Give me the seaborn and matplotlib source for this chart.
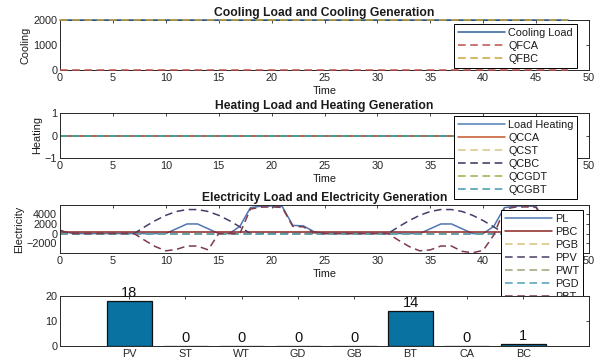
import matplotlib
matplotlib.use("Agg")
import matplotlib.pyplot as plt
import seaborn as sns
import pandas as pd

# ---------------- data ----------------
hours = list(range(0, 49))

zero_48h = [0, 0, 0, 0, 0, 0, 0, 0, 0, 0, 0, 0, 0, 0, 0, 0, 0, 0, 0, 0, 0, 0, 0, 0, 0,
            0, 0, 0, 0, 0, 0, 0, 0, 0, 0, 0, 0, 0, 0, 0, 0, 0, 0, 0, 0, 0, 0, 0, 0]

cooling_load = [2000, 2000, 2000, 2000, 2000, 2000, 2000, 2000, 2000, 2000, 2000, 2000, 2000,
                2000, 2000, 2000, 2000, 2000, 2000, 2000, 2000, 2000, 2000, 2000, 2000,
                2000, 2000, 2000, 2000, 2000, 2000, 2000, 2000, 2000, 2000, 2000, 2000,
                2000, 2000, 2000, 2000, 2000, 2000, 2000, 2000, 2000, 2000, 2000, 2000]
qfca = zero_48h
qfbc = cooling_load

load_heating = zero_48h
qcca = zero_48h
qcst = zero_48h
qcbc = zero_48h
qcgdt = zero_48h
qcgbt = zero_48h

p_load = [550, 100, 0, 0, 0, 0, 0, 0, 0, 0, 0, 1000, 2000, 2000, 1000, 0, 0, 1500,
          5400, 5700, 5750, 5650, 1700, 1600, 400,
          0, 0, 0, 0, 0, 0, 0, 0, 0, 0, 1000, 2000, 2000, 1000, 0, 0, 1500,
          5400, 5700, 5750, 5650, 1700, 1600, 400]
p_bc = [300, 300, 300, 300, 300, 300, 300, 300, 300, 300, 300, 300, 300, 300, 300, 300, 300,
        300, 300, 300, 300, 300, 300, 300, 300, 300, 300, 300, 300, 300, 300, 300, 300, 300,
        300, 300, 300, 300, 300, 300, 300, 300, 300, 300, 300, 300, 300, 300, 300]
p_gb = zero_48h
p_pv = [0, 0, 0, 0, 0, 0, 0, 0, 1400, 2700, 3800, 4600, 5000, 5000, 4600, 3800, 2700, 1400,
        0, 0, 0, 0, 0, 0, 0,
        0, 0, 0, 0, 0, 0, 0, 1400, 2700, 3800, 4600, 5000, 5000, 4600, 3800, 2700, 1400,
        0, 0, 0, 0, 0, 0, 0]
p_wt = zero_48h
p_gd = zero_48h
p_bt = [700, 0, 0, 0, 0, 0, 0, 0, -1400, -2700, -3600, -3300, -2600, -2600, -3400, 0, 0, 0,
        5100, 5500, 5550, 5450, 1500, 1400, 150,
        0, 0, 0, 0, 0, 0, 0, -1400, -2700, -3600, -3400, -2600, -2600, -3700, -4000, -3500, -300,
        5100, 5500, 5550, 5450, 1500, 1400, 150]

units = ["PV", "ST", "WT", "GD", "GB", "BT", "CA", "BC"]
unit_counts = [18, 0, 0, 0, 0, 14, 0, 1]

time_ticks = [0, 5, 10, 15, 20, 25, 30, 35, 40, 45, 50]

# ---------------- style ----------------
sns.set_theme(style="white")
plt.rcParams["font.family"] = ["Liberation Sans", "DejaVu Sans"]
FS = 7.8
plt.rcParams.update({
    "font.size": FS,
    "axes.linewidth": 0.7,
    "axes.edgecolor": "#262626",
    "xtick.direction": "in",
    "ytick.direction": "in",
    "xtick.top": True,
    "ytick.right": True,
    "xtick.major.size": 2.5,
    "ytick.major.size": 2.5,
    "xtick.major.width": 0.6,
    "ytick.major.width": 0.6,
    "xtick.major.pad": 2,
    "ytick.major.pad": 2,
    "xtick.labelsize": FS,
    "ytick.labelsize": FS,
    "xtick.color": "#262626",
    "ytick.color": "#262626",
    "text.color": "#1a1a1a",
    "axes.labelcolor": "#1a1a1a",
})

W, H = 601, 360
fig = plt.figure(figsize=(W / 100, H / 100), dpi=100)


def ax_px(left, top, right, bottom):
    return fig.add_axes([left / W, 1 - bottom / H, (right - left) / W, (bottom - top) / H])


DASH = (5, 3)


def draw(ax, y, color, dashed, label, lw=1.1, unclipped=False):
    sns.lineplot(x=hours, y=y, ax=ax, color=color, lw=lw, label=label, legend=False)
    line = ax.get_lines()[-1]
    if dashed:
        line.set_dashes(DASH)
    if unclipped:
        line.set_clip_on(False)
        line.set_zorder(3)
    return line


def make_legend(ax, handles, x, y):
    leg = ax.legend(handles=handles, loc="upper left",
                    bbox_to_anchor=(x / W, 1 - y / H), bbox_transform=fig.transFigure,
                    fontsize=FS, handlelength=4.4, handletextpad=0.25,
                    labelspacing=0.28, borderpad=0.35, borderaxespad=0,
                    fancybox=False, framealpha=1, edgecolor="black")
    leg.get_frame().set_linewidth(0.7)
    leg.set_zorder(6)
    return leg


def finish_time_axis(ax, title, hidden=()):
    ax.set_xlim(0, 50)
    ax.set_xticks(time_ticks)
    # tick labels that sit under the legend box are covered in the original
    ax.set_xticklabels(["" if t in hidden else str(t) for t in time_ticks])
    ax.set_xlabel("Time", fontsize=FS, labelpad=2)
    ax.set_title(title, fontsize=8.7, fontweight="bold", pad=3)


# ---- Cooling ----
ax1 = ax_px(60, 20, 589, 70)
h = [draw(ax1, cooling_load, "#2e5f98", False, "Cooling Load", unclipped=True),
     draw(ax1, qfca, "#c0504d", True, "QFCA", unclipped=True),
     draw(ax1, qfbc, "#c9a53a", True, "QFBC", unclipped=True)]
ax1.set_ylim(0, 2000)
ax1.set_yticks([0, 1000, 2000])
ax1.set_ylabel("Cooling", fontsize=FS, labelpad=2)
finish_time_axis(ax1, "Cooling Load and Cooling Generation")
make_legend(ax1, h, 454, 24)

# ---- Heating ----
ax2 = ax_px(60, 113, 589, 158)
h = [draw(ax2, load_heating, "#4f7fb5", False, "Load Heating"),
     draw(ax2, qcca, "#c2562a", False, "QCCA"),
     draw(ax2, qcst, "#d9c48a", True, "QCST"),
     draw(ax2, qcbc, "#3d2f5e", True, "QCBC"),
     draw(ax2, qcgdt, "#93b04a", True, "QCGDT"),
     draw(ax2, qcgbt, "#3f9aaa", True, "QCGBT")]
ax2.set_ylim(-1, 1)
ax2.set_yticks([-1, 0, 1])
ax2.set_ylabel("Heating", fontsize=FS, labelpad=2)
finish_time_axis(ax2, "Heating Load and Heating Generation", hidden=(40, 45))
make_legend(ax2, h, 454, 116)

# ---- Electricity ----
ax3 = ax_px(60, 205, 589, 253)
h = [draw(ax3, p_load, "#4f76b0", False, "PL"),
     draw(ax3, p_bc, "#8e2424", False, "PBC"),
     draw(ax3, p_gb, "#d8c27e", True, "PGB"),
     draw(ax3, p_pv, "#4a3a68", True, "PPV"),
     draw(ax3, p_wt, "#9aa574", True, "PWT"),
     draw(ax3, p_gd, "#4f9fb5", True, "PGD"),
     draw(ax3, p_bt, "#7e3a4c", True, "PBT")]
ax3.set_ylim(-4050, 5950)
ax3.set_yticks([-2000, 0, 2000, 4000])
ax3.set_ylabel("Electricity", fontsize=FS, labelpad=2)
finish_time_axis(ax3, "Electricity Load and Electricity Generation", hidden=(45,))
make_legend(ax3, h, 501, 210)

# ---- Bar chart ----
ax4 = ax_px(60, 296, 589, 346)
ax4.set_zorder(10)
ax4.set_facecolor("white")
df_bar = pd.DataFrame({"unit": units, "count": unit_counts})
sns.barplot(data=df_bar, x="unit", y="count", ax=ax4, color="#0a72a0",
            saturation=1, width=0.8, edgecolor="#111111", linewidth=0.9)
for p, v in zip(ax4.patches, unit_counts):
    ax4.text(p.get_x() + p.get_width() / 2, v + 0.3, str(v), ha="center", va="bottom",
             fontsize=10.5, color="#111111")
ax4.set_xlim(-1.23, 8.17)
ax4.set_ylim(0, 20)
ax4.set_yticks([0, 10, 20])
ax4.set_xlabel("")
ax4.set_ylabel("")

fig.savefig("out.png", dpi=100)
